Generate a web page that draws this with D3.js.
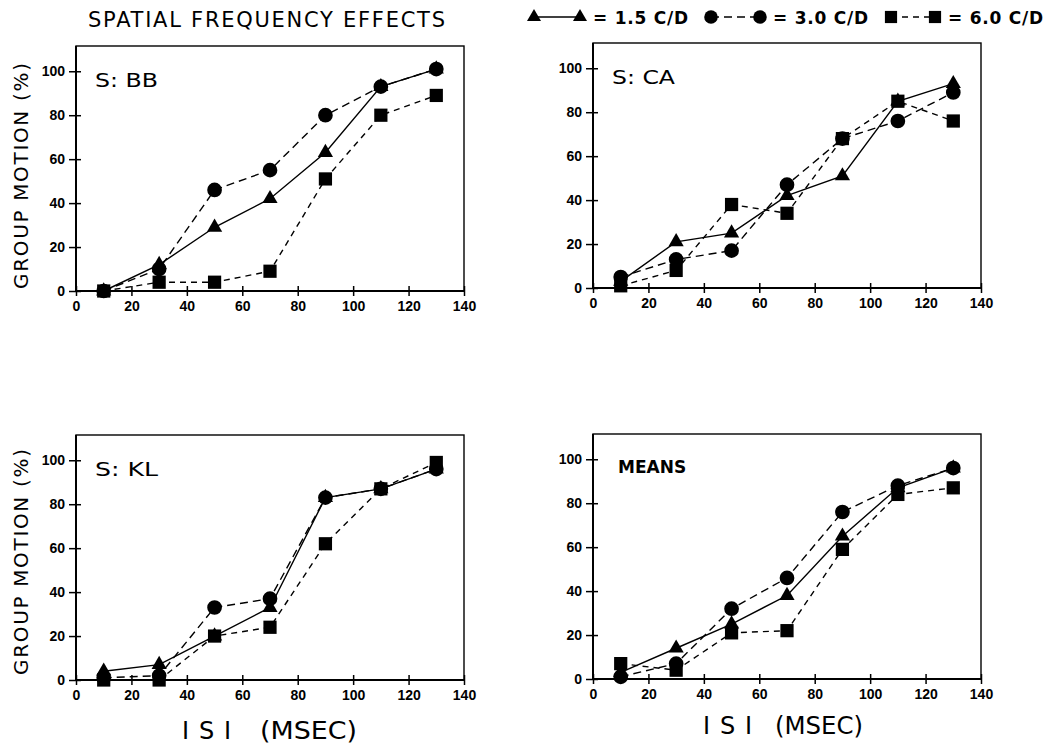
<!DOCTYPE html>
<html>
<head>
<meta charset="utf-8">
<script src="https://cdn.jsdelivr.net/npm/d3@7"></script>
<style>
body { margin: 0; background: #fff; }
text { fill: #000; }
</style>
</head>
<body>
<svg id="chart" width="1055" height="747"></svg>
<script>
var isi = [10, 30, 50, 70, 90, 110, 130];
var xTicks = [0, 20, 40, 60, 80, 100, 120, 140];
var yTicks = [0, 20, 40, 60, 80, 100];

var bb15 = [0, 12, 29, 42, 63, 93, 101];
var bb30 = [0, 10, 46, 55, 80, 93, 101];
var bb60 = [0, 4, 4, 9, 51, 80, 89];

var ca15 = [3, 21, 25, 42, 51, 85, 93];
var ca30 = [5, 13, 17, 47, 68, 76, 89];
var ca60 = [1, 8, 38, 34, 68, 85, 76];

var kl15 = [4, 7, 20, 33, 83, 87, 96];
var kl30 = [1, 2, 33, 37, 83, 87, 96];
var kl60 = [0, 0, 20, 24, 62, 87, 99];

var mn15 = [3, 14, 25, 38, 65, 87, 96];
var mn30 = [1, 7, 32, 46, 76, 88, 96];
var mn60 = [7, 4, 21, 22, 59, 84, 87];

var panelNames = ["S: BB", "S: CA", "S: KL", "MEANS"];
var legendLabels = ["= 1.5 C/D", "= 3.0 C/D", "= 6.0 C/D"];

var svg = d3.select("#chart");
var w = 388, h = 245;

var x = d3.scaleLinear().domain([0, 140]).range([0, w]);
var y = d3.scaleLinear().domain([0, 111.5]).range([h, 0]);

var styles = [
    {sym: d3.symbolTriangle, size: 100, dash: null},
    {sym: d3.symbolCircle, size: 170, dash: "8,5"},
    {sym: d3.symbolSquare, size: 175, dash: "6,5"}
];

var line = d3.line()
    .x(d => x(d[0]))
    .y(d => y(d[1]));

function drawPanel(left, top, name, series) {
    var g = svg.append("g").attr("transform", `translate(${left},${top})`);

    var yAxis = g.append("g")
        .call(d3.axisLeft(y).tickValues(yTicks).tickSize(7).tickPadding(4))
        .style("font-family", "'Liberation Sans', Arial, sans-serif")
        .style("font-weight", "bold")
        .style("font-size", "14px");
    yAxis.select(".domain").remove();
    yAxis.selectAll(".tick line").attr("x1", 5).attr("stroke-width", 1.5);

    var xAxis = g.append("g")
        .attr("transform", `translate(0,${h})`)
        .call(d3.axisBottom(x).tickValues(xTicks).tickSize(5).tickPadding(5))
        .style("font-family", "'Liberation Sans', Arial, sans-serif")
        .style("font-weight", "bold")
        .style("font-size", "14px");
    xAxis.select(".domain").remove();
    xAxis.selectAll(".tick line").attr("y1", -5).attr("stroke-width", 1.5);

    g.append("rect")
        .attr("width", w)
        .attr("height", h)
        .attr("fill", "none")
        .attr("stroke", "#000")
        .attr("stroke-width", 1.4);

    g.append("path")
        .attr("d", `M0,0V${h}H${w}`)
        .attr("fill", "none")
        .attr("stroke", "#000")
        .attr("stroke-width", 2);

    series.forEach(function(vals, i) {
        var pts = isi.map((v, j) => [v, vals[j]]);
        g.append("path")
            .datum(pts)
            .attr("d", line)
            .attr("fill", "none")
            .attr("stroke", "#000")
            .attr("stroke-width", 1.4)
            .attr("stroke-dasharray", styles[i].dash);
    });

    series.forEach(function(vals, i) {
        var pts = isi.map((v, j) => [v, vals[j]]);
        g.append("g")
            .selectAll("path")
            .data(pts)
            .join("path")
            .attr("transform", d => `translate(${x(d[0])},${y(d[1])})`)
            .attr("d", d3.symbol().type(styles[i].sym).size(styles[i].size))
            .attr("fill", "#000");
    });

    if (name === "MEANS") {
        g.append("text")
            .attr("x", 25)
            .attr("y", 39)
            .style("font-family", "'DejaVu Sans', sans-serif")
            .style("font-weight", "bold")
            .style("font-size", "17px")
            .text(name);
    }
    else {
        g.append("text")
            .attr("x", 19)
            .attr("y", 41)
            .attr("textLength", 63)
            .attr("lengthAdjust", "spacingAndGlyphs")
            .style("font-family", "'DejaVu Sans', sans-serif")
            .style("font-size", "20px")
            .text(name);
    }
}

drawPanel(76, 46, panelNames[0], [bb15, bb30, bb60]);
drawPanel(593, 43, panelNames[1], [ca15, ca30, ca60]);
drawPanel(76, 435, panelNames[2], [kl15, kl30, kl60]);
drawPanel(593, 434, panelNames[3], [mn15, mn30, mn60]);

// title and legend
svg.append("text")
    .attr("x", 88)
    .attr("y", 27)
    .attr("textLength", 357)
    .attr("lengthAdjust", "spacing")
    .style("font-family", "'DejaVu Sans', sans-serif")
    .style("font-size", "21px")
    .text("SPATIAL FREQUENCY EFFECTS");

var legendPos = [[534, 580, 593], [711, 760, 773], [891, 935, 948]];

legendPos.forEach(function(p, i) {
    svg.append("line")
        .attr("x1", p[0]).attr("x2", p[1])
        .attr("y1", 17).attr("y2", 17)
        .attr("stroke", "#000")
        .attr("stroke-width", 1.4)
        .attr("stroke-dasharray", styles[i].dash);
    svg.selectAll(null)
        .data([p[0], p[1]])
        .join("path")
        .attr("transform", d => `translate(${d},17)`)
        .attr("d", d3.symbol().type(styles[i].sym).size(styles[i].size * 0.85))
        .attr("fill", "#000");
    svg.append("text")
        .attr("x", p[2])
        .attr("y", 23.5)
        .attr("textLength", 95)
        .attr("lengthAdjust", "spacing")
        .style("font-family", "'DejaVu Sans', sans-serif")
        .style("font-weight", "bold")
        .style("font-size", "17px")
        .text(legendLabels[i]);
});

// axis titles
[176, 562].forEach(function(cy) {
    svg.append("text")
        .attr("transform", `translate(28,${cy}) rotate(-90)`)
        .attr("text-anchor", "middle")
        .attr("textLength", 226)
        .attr("lengthAdjust", "spacing")
        .style("font-family", "'DejaVu Sans', sans-serif")
        .style("font-size", "20px")
        .text("GROUP MOTION (%)");
});

[[182, 231, 260, 357, 739], [703, 752, 775, 863, 734]].forEach(function(c) {
    svg.append("text")
        .attr("x", c[0])
        .attr("y", c[4])
        .attr("textLength", c[1] - c[0])
        .attr("lengthAdjust", "spacing")
        .style("font-family", "'DejaVu Sans', sans-serif")
        .style("font-size", "24px")
        .text("I S I");
    svg.append("text")
        .attr("x", c[2])
        .attr("y", c[4])
        .attr("textLength", c[3] - c[2])
        .attr("lengthAdjust", "spacingAndGlyphs")
        .style("font-family", "'DejaVu Sans', sans-serif")
        .style("font-size", "24px")
        .text("(MSEC)");
});
</script>
</body>
</html>
